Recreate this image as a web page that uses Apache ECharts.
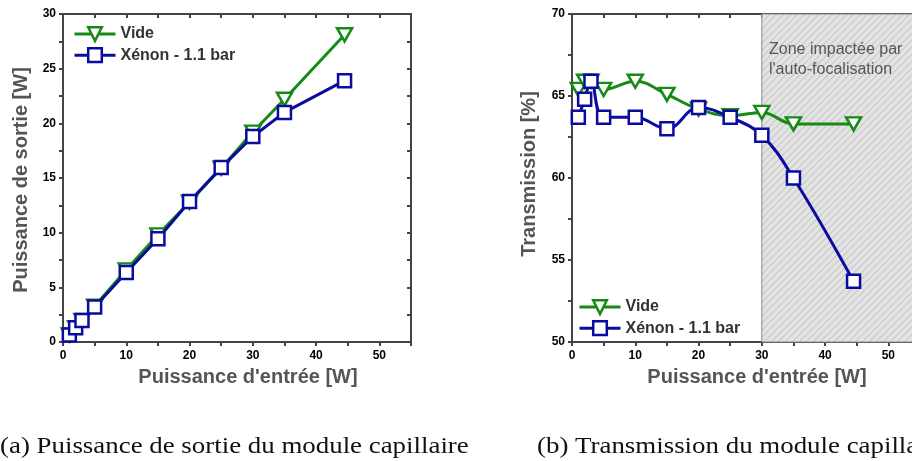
<!DOCTYPE html>
<html>
<head>
<meta charset="utf-8">
<script src="https://cdn.jsdelivr.net/npm/echarts@6/dist/echarts.min.js"></script>
<style>html,body{margin:0;padding:0;background:#fff}#c{width:912px;height:461px}</style>
</head>
<body>
<div id="c"></div>
<script>
var inputPower = [1, 2, 3, 5, 10, 15, 20, 25, 30, 35, 44.5];
var outVide   = [0.65, 1.32, 1.98, 3.27, 6.6, 9.8, 12.8, 15.9, 19.2, 22.2, 28.1];
var outXenon  = [0.64, 1.3, 1.97, 3.2, 6.35, 9.45, 12.85, 15.95, 18.8, 21.0, 23.9];
var transVide  = [65.4, 65.9, 65.9, 65.4, 65.9, 65.1, 64.2, 63.8, 64.0, 63.3, 63.3];
var transXenon = [63.7, 64.8, 65.9, 63.7, 63.7, 63.0, 64.3, 63.7, 62.6, 60.0, 53.7];
var seriesNames = ['Vide', 'Xénon - 1.1 bar'];
var captionA = '(a) Puissance de sortie du module capillaire';
var captionB = '(b) Transmission du module capillaire';
var zoneText = ['Zone impactée par', "l'auto-focalisation"];

function pairs(xs, ys) { return xs.map(function (x, i) { return [x, ys[i]]; }); }

var GREEN = '#168a16', BLUE = '#0b0ba0', AXIS = '#444';

// hatch pattern
var pat = document.createElement('canvas');
pat.width = 7; pat.height = 7;
var pc = pat.getContext('2d');
pc.fillStyle = '#e3e3e3'; pc.fillRect(0, 0, 7, 7);
pc.strokeStyle = '#c9c9c9'; pc.lineWidth = 1.2;
pc.beginPath();
pc.moveTo(-1, 8); pc.lineTo(8, -1);
pc.moveTo(-1, 1); pc.lineTo(1, -1);
pc.moveTo(6, 8); pc.lineTo(8, 6);
pc.stroke();

var labelFont = { color: '#000', fontWeight: 'bold', fontSize: 12, fontFamily: 'Liberation Sans, Arial' };

function mainX(grid) {
  return {
    gridIndex: grid, type: 'value', min: 0, max: 55, interval: 5, position: 'bottom',
    axisLine: { show: true, onZero: false, lineStyle: { color: AXIS, width: 2 } },
    axisTick: { show: true, inside: false, length: 4, lineStyle: { color: AXIS, width: 2 } },
    axisLabel: Object.assign({ margin: 8, formatter: function (v) { return (v % 10 === 0 && v <= 50) ? String(v) : ''; } }, labelFont),
    splitLine: { show: false }
  };
}
function topX(grid) {
  return {
    gridIndex: grid, type: 'value', min: 0, max: 55, interval: 5, position: 'top',
    axisLine: { show: true, onZero: false, lineStyle: { color: AXIS, width: 2 } },
    axisTick: { show: true, inside: true, length: 4, lineStyle: { color: AXIS, width: 2 } },
    axisLabel: { show: false }, splitLine: { show: false }
  };
}
function mainY(grid, min, max) {
  return {
    gridIndex: grid, type: 'value', min: min, max: max, interval: 2.5, position: 'left',
    axisLine: { show: true, onZero: false, lineStyle: { color: AXIS, width: 2 } },
    axisTick: { show: true, inside: false, length: 4, lineStyle: { color: AXIS, width: 2 } },
    axisLabel: Object.assign({ margin: 7, formatter: function (v) { return (v % 5 === 0) ? String(v) : ''; } }, labelFont),
    splitLine: { show: false }
  };
}
function rightY(grid, min, max) {
  return {
    gridIndex: grid, type: 'value', min: min, max: max, interval: 2.5, position: 'right',
    axisLine: { show: true, onZero: false, lineStyle: { color: AXIS, width: 2 } },
    axisTick: { show: true, inside: true, length: 4, lineStyle: { color: AXIS, width: 2 } },
    axisLabel: { show: false }, splitLine: { show: false }
  };
}

var triPath = 'path://M0,0 L12,0 L6,10.5 Z';

function mkSeries(name, data, xi, yi, smooth, isTri) {
  var col = isTri ? GREEN : BLUE;
  return {
    name: name, type: 'line', data: data, xAxisIndex: xi, yAxisIndex: yi,
    smooth: smooth ? 0.4 : false,
    symbol: isTri ? triPath : 'rect',
    symbolSize: isTri ? [15, 13] : 13,
    lineStyle: { color: col, width: 3 },
    itemStyle: { color: '#fff', borderColor: col, borderWidth: 2.5 },
    z: isTri ? 3 : 4,
    animation: false
  };
}

var legendText = { color: '#333', fontWeight: 'bold', fontSize: 16, fontFamily: 'Liberation Sans, Arial', lineHeight: 16 };

var option = {
  animation: false,
  backgroundColor: '#fff',
  grid: [
    { left: 63, top: 14, width: 348, height: 328, containLabel: false, outerBoundsMode: 'none' },
    { left: 572, top: 14, width: 348, height: 328, containLabel: false, outerBoundsMode: 'none' }
  ],
  xAxis: [mainX(0), topX(0), mainX(1), topX(1)],
  yAxis: [mainY(0, 0, 30), rightY(0, 0, 30), mainY(1, 50, 70), rightY(1, 50, 70)],
  legend: [
    { orient: 'vertical', left: 73, top: 26, padding: 0, itemWidth: 41, itemHeight: 17, itemGap: 5,
      lineStyle: { width: 3 }, itemStyle: { borderWidth: 2.5 },
      textStyle: legendText, data: [{ name: seriesNames[0] }, { name: seriesNames[1] }] },
    { orient: 'vertical', left: 578, top: 299, padding: 0, itemWidth: 41, itemHeight: 17, itemGap: 5,
      lineStyle: { width: 3 }, itemStyle: { borderWidth: 2.5 },
      textStyle: legendText, data: [{ name: seriesNames[0] }, { name: seriesNames[1] }] }
  ],
  series: [
    mkSeries(seriesNames[0], pairs(inputPower, outVide), 0, 0, false, true),
    mkSeries(seriesNames[1], pairs(inputPower, outXenon), 0, 0, false, false),
    {
      type: 'line', data: [], xAxisIndex: 2, yAxisIndex: 2, z: 1, silent: true,
      markArea: {
        silent: true,
        itemStyle: { color: { image: pat, repeat: 'repeat' }, borderColor: '#8a8a8a', borderWidth: 1 },
        data: [[{ xAxis: 30, yAxis: 50 }, { xAxis: 56, yAxis: 70 }]]
      }
    },
    mkSeries(seriesNames[0], pairs(inputPower, transVide), 2, 2, true, true),
    mkSeries(seriesNames[1], pairs(inputPower, transXenon), 2, 2, true, false)
  ],
  graphic: [
    { type: 'text', x: 248, y: 377, silent: true,
      style: { text: "Puissance d'entrée [W]", fill: '#555', font: 'bold 20px "Liberation Sans", Arial', textAlign: 'center', textVerticalAlign: 'middle' } },
    { type: 'text', x: 757, y: 377, silent: true,
      style: { text: "Puissance d'entrée [W]", fill: '#555', font: 'bold 20px "Liberation Sans", Arial', textAlign: 'center', textVerticalAlign: 'middle' } },
    { type: 'text', x: 21, y: 180, rotation: Math.PI / 2, silent: true,
      style: { text: 'Puissance de sortie [W]', fill: '#555', font: 'bold 20px "Liberation Sans", Arial', textAlign: 'center', textVerticalAlign: 'middle' } },
    { type: 'text', x: 529, y: 174, rotation: Math.PI / 2, silent: true,
      style: { text: 'Transmission [%]', fill: '#555', font: 'bold 20px "Liberation Sans", Arial', textAlign: 'center', textVerticalAlign: 'middle' } },
    { type: 'text', x: 769, y: 50, silent: true, z: 10,
      style: { text: zoneText[0], fill: '#555', font: '16px "Liberation Sans", Arial', textAlign: 'left', textVerticalAlign: 'middle' } },
    { type: 'text', x: 769, y: 70, silent: true, z: 10,
      style: { text: zoneText[1], fill: '#555', font: '16px "Liberation Sans", Arial', textAlign: 'left', textVerticalAlign: 'middle' } },
    { type: 'text', x: 0, y: 447, scaleX: 1.12, scaleY: 1, silent: true,
      style: { text: captionA, fill: '#111', font: '24px "Liberation Serif", serif', textAlign: 'left', textVerticalAlign: 'middle' } },
    { type: 'text', x: 537, y: 447, scaleX: 1.12, scaleY: 1, silent: true,
      style: { text: captionB, fill: '#111', font: '24px "Liberation Serif", serif', textAlign: 'left', textVerticalAlign: 'middle' } }
  ]
};

var chart = echarts.init(document.getElementById('c'), null, { renderer: 'canvas' });
chart.setOption(option);
</script>
</body>
</html>
